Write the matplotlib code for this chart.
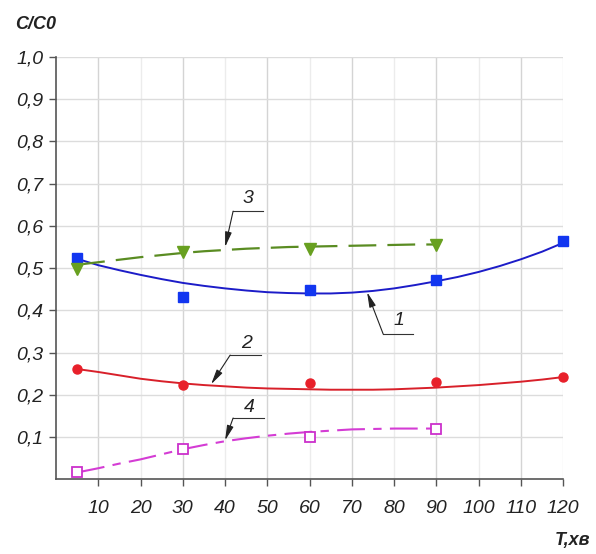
import matplotlib
matplotlib.use("Agg")
import matplotlib.pyplot as plt

plt.rcParams["font.family"] = ["Liberation Sans", "DejaVu Sans"]
plt.rcParams["lines.scale_dashes"] = False

# measured points (T, min ; C/C0)
T_pts = [5, 30, 60, 90, 120]
c1_pts = [0.524, 0.431, 0.448, 0.472, 0.564]
c2_pts = [0.261, 0.224, 0.227, 0.230, 0.242]
T_pts34 = [5, 30, 60, 90]
c3_pts = [0.497, 0.538, 0.545, 0.555]
c4_pts = [0.017, 0.071, 0.100, 0.118]

# trend curves
T_fit = [5, 10, 15, 20, 25, 30, 35, 40, 45, 50, 55, 60, 65, 70, 75, 80, 85,
         90, 95, 100, 105, 110, 115, 120]
c1_fit = [0.522, 0.507, 0.495, 0.484, 0.474, 0.465, 0.458, 0.452, 0.447,
          0.443, 0.441, 0.440, 0.440, 0.442, 0.446, 0.452, 0.460, 0.469,
          0.479, 0.491, 0.505, 0.521, 0.539, 0.560]
c2_fit = [0.261, 0.254, 0.246, 0.238, 0.232, 0.227, 0.223, 0.220, 0.217,
          0.215, 0.214, 0.213, 0.212, 0.212, 0.212, 0.213, 0.215, 0.217,
          0.220, 0.223, 0.227, 0.231, 0.236, 0.242]
T_fit34 = [5, 10, 15, 20, 25, 30, 35, 40, 45, 50, 55, 60, 65, 70, 75, 80,
           85, 90]
c3_fit = [0.508, 0.514, 0.520, 0.526, 0.531, 0.536, 0.540, 0.543, 0.546,
          0.548, 0.550, 0.551, 0.552, 0.553, 0.554, 0.555, 0.556, 0.556]
c4_fit = [0.016, 0.026, 0.037, 0.047, 0.059, 0.071, 0.081, 0.090, 0.097,
          0.103, 0.108, 0.112, 0.115, 0.118, 0.119, 0.120, 0.120, 0.120]

x_ticks = [10, 20, 30, 40, 50, 60, 70, 80, 90, 100, 110, 120]
y_ticks = [0.1, 0.2, 0.3, 0.4, 0.5, 0.6, 0.7, 0.8, 0.9, 1.0]

fig = plt.figure(figsize=(5.96, 5.54), dpi=100)
ax = fig.add_axes([0.094, 0.135, 0.851, 0.762])
ax.set_xlim(0, 120)
ax.set_ylim(0, 1.0)

# grid: odd decades stronger, even ones faint
for x in x_ticks:
    col = "#d4d4d4" if (x // 10) % 2 == 1 else "#ececec"
    ax.axvline(x, color=col, lw=1.0, zorder=0)
for y in y_ticks:
    ax.axhline(y, color="#dcdcdc", lw=1.0, zorder=0)

ax.plot(T_fit, c1_fit, color="#1c1cc8", lw=1.4, zorder=3)
ax.plot(T_pts, c1_pts, "s", color="#1236f0", ms=7, zorder=4, clip_on=False)

ax.plot(T_fit, c2_fit, color="#d8202a", lw=1.4, zorder=3)
ax.plot(T_pts, c2_pts, "o", color="#e8202a", ms=6.5, zorder=4, clip_on=False)

ax.plot(T_fit34, c3_fit, color="#5a8c22", lw=1.6, dashes=(20, 8), zorder=3)
ax.plot(T_pts34, c3_pts, "v", color="#68a020", ms=8, zorder=4)

ax.plot(T_fit34, c4_fit, color="#d43cd4", lw=1.5, dashes=(20, 6, 6, 6), zorder=3)
ax.plot(T_pts34, c4_pts, "s", mfc="white", mec="#cc30cc", mew=1.3, ms=7,
        zorder=4, clip_on=False)

# curve labels with leader lines
labels = [("3", (45.4, 0.666), (41.9, 0.635), (49.0, 0.635), (40.0, 0.550)),
          ("1", (81.2, 0.377), (77.4, 0.344), (84.5, 0.344), (73.6, 0.443)),
          ("2", (45.0, 0.322), (41.2, 0.294), (48.5, 0.294), (36.7, 0.225)),
          ("4", (45.7, 0.171), (41.9, 0.145), (49.2, 0.145), (40.0, 0.092))]
for txt, pos, l0, l1, tip in labels:
    ax.plot([l0[0], l1[0]], [l0[1], l1[1]], color="#333333", lw=0.8, zorder=5)
    ax.annotate("", xy=tip, xytext=l0,
                arrowprops=dict(arrowstyle="-|>,head_length=0.9,head_width=0.2",
                                color="#222222", lw=0.8, shrinkA=0, shrinkB=0),
                zorder=5)
    ax.text(pos[0], pos[1], txt, fontsize=14, style="italic", color="#222222",
            ha="center", va="center", zorder=5)

ax.set_xticks(x_ticks)
ax.set_xticklabels([str(v) for v in x_ticks])
ax.set_yticks(y_ticks)
ax.set_yticklabels([f"{v:.1f}".replace(".", ",") for v in y_ticks])
for lab in ax.get_xticklabels() + ax.get_yticklabels():
    lab.set_fontstyle("italic")
    lab.set_fontsize(14)
    lab.set_color("#222222")
ax.tick_params(direction="out", length=5, width=1.0, color="#555555")
ax.tick_params(axis="y", pad=4)
ax.tick_params(axis="x", pad=10)

for s in ("top", "right"):
    ax.spines[s].set_visible(False)
for s in ("left", "bottom"):
    ax.spines[s].set_color("#555555")
    ax.spines[s].set_linewidth(1.2)

fig.text(0.025, 0.955, "C/C0", fontsize=13, fontweight="bold", style="italic",
         color="#222222", ha="left", va="center")
fig.text(0.99, 0.025, "T,хв", fontsize=13, fontweight="bold", style="italic",
         color="#222222", ha="right", va="center")

fig.savefig("out.png", dpi=100)
